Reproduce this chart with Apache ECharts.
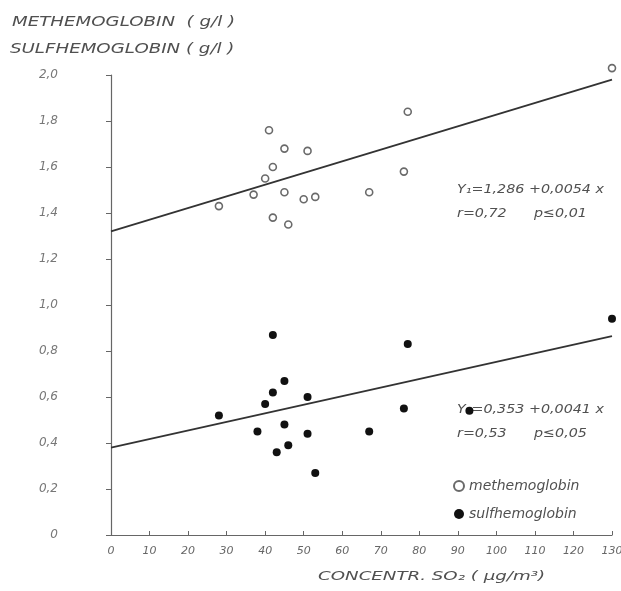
<!DOCTYPE html>
<html>
<head>
<meta charset="utf-8">
<script src="https://cdn.jsdelivr.net/npm/echarts@6/dist/echarts.min.js"></script>
<style>
  html, body { margin: 0; padding: 0; background: #fff; }
  #chart { width: 621px; height: 591px; }
</style>
</head>
<body>
<div id="chart"></div>
<script>
// methemoglobin points [SO2, g/l]
const methemoglobin = [
  [28, 1.43], [37, 1.48], [40, 1.55], [41, 1.76], [42, 1.60], [42, 1.38],
  [45, 1.68], [45, 1.49], [46, 1.35], [50, 1.46], [51, 1.67], [53, 1.47],
  [67, 1.49], [76, 1.58], [77, 1.84], [130, 2.03]
];
// sulfhemoglobin points
const sulfhemoglobin = [
  [28, 0.52], [38, 0.45], [40, 0.57], [42, 0.87], [42, 0.62], [43, 0.36],
  [45, 0.67], [45, 0.48], [46, 0.39], [51, 0.60], [51, 0.44], [53, 0.27],
  [67, 0.45], [76, 0.55], [77, 0.83], [93, 0.54], [130, 0.94]
];
// regression lines as drawn (end points)
const metLine = [[0, 1.32], [130, 1.98]];
const sulfLine = [[0, 0.38], [130, 0.865]];

const xTicks = [0, 130, 10];   // min, max, step
const yTicks = [0, 2.0, 0.2];

const txt = '#505050';
const fontFam = '"DejaVu Sans", sans-serif';

const chart = echarts.init(document.getElementById('chart'));

// wide, spaced lettering like the stencil text in the original
const label = (x, y, text, size, sx) => ({
  type: 'text', x: x, y: y, scaleX: sx,
  style: { text: text, fill: txt, font: 'italic ' + size + 'px ' + fontFam }
});

const option = {
  animation: false,
  grid: { left: 111, right: 9, top: 75, bottom: 56, outerBoundsMode: 'none' },
  xAxis: {
    type: 'value',
    min: xTicks[0], max: xTicks[1], interval: xTicks[2],
    offset: 2,
    axisLine: { lineStyle: { color: '#666', width: 1.2 } },
    axisTick: { inside: true, length: 4, lineStyle: { color: '#666' } },
    splitLine: { show: false },
    axisLabel: {
      color: '#666', fontStyle: 'italic', fontFamily: fontFam, fontSize: 11, margin: 9
    }
  },
  yAxis: {
    type: 'value',
    min: yTicks[0], max: yTicks[1], interval: yTicks[2],
    offset: 38,
    axisLine: { show: true, lineStyle: { color: '#666', width: 1.2 } },
    axisTick: { show: true, length: 5, lineStyle: { color: '#666' } },
    splitLine: { show: false },
    axisLabel: {
      color: '#777', fontStyle: 'italic', fontFamily: fontFam, fontSize: 12, margin: 15,
      formatter: v => v === 0 ? '0' : v.toFixed(1).replace('.', ',')
    }
  },
  legend: {
    orient: 'vertical',
    left: 448, top: 474,
    itemGap: 14,
    itemWidth: 10, itemHeight: 10,
    data: ['methemoglobin', 'sulfhemoglobin'],
    textStyle: { color: txt, fontStyle: 'italic', fontFamily: fontFam, fontSize: 14 }
  },
  series: [
    {
      name: 'methemoglobin',
      type: 'scatter',
      symbol: 'circle',
      symbolSize: 7,
      clip: false,
      itemStyle: { color: '#fff', borderColor: '#6a6a6a', borderWidth: 1.6, opacity: 1 },
      data: methemoglobin,
      z: 3
    },
    {
      name: 'sulfhemoglobin',
      type: 'scatter',
      symbol: 'circle',
      symbolSize: 8,
      clip: false,
      itemStyle: { color: '#111', opacity: 1 },
      data: sulfhemoglobin,
      z: 3
    },
    {
      name: 'metFit',
      type: 'line',
      data: metLine,
      symbol: 'none',
      lineStyle: { color: '#333', width: 1.8 },
      z: 2
    },
    {
      name: 'sulfFit',
      type: 'line',
      data: sulfLine,
      symbol: 'none',
      lineStyle: { color: '#333', width: 1.8 },
      z: 2
    }
  ],
  graphic: [
    label(12, 15, 'METHEMOGLOBIN  ( g/l )', 14, 1.3),
    label(10, 42, 'SULFHEMOGLOBIN ( g/l )', 14, 1.3),
    label(457, 183, 'Y₁=1,286 +0,0054 x', 13, 1.1),
    label(457, 207, 'r=0,72      p≤0,01', 13, 1.1),
    label(457, 403, 'Y₂=0,353 +0,0041 x', 13, 1.1),
    label(457, 427, 'r=0,53      p≤0,05', 13, 1.1),
    label(318, 570, 'CONCENTR. SO₂ ( µg/m³)', 13, 1.4)
  ]
};

chart.setOption(option);
</script>
</body>
</html>
